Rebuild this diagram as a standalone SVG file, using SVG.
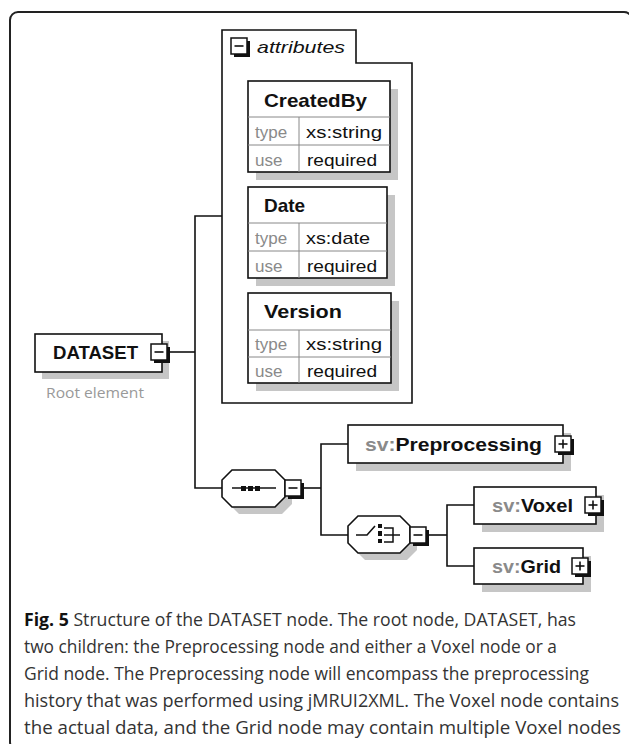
<svg xmlns="http://www.w3.org/2000/svg" width="629" height="744" viewBox="0 0 629 744">
<style>
.box{fill:#fff;stroke:#111;stroke-width:1.6}
.sh{fill:#c6c6c6}
.ln{fill:none;stroke:#111;stroke-width:1.6}
.cell{fill:none;stroke:#888;stroke-width:1}
.bt{font-family:"Liberation Sans",Arial,sans-serif;font-weight:bold;font-size:19px;fill:#111}
.gt{font-family:"Liberation Sans",Arial,sans-serif;font-size:17px;fill:#8a8a8a}
.vt{font-family:"Liberation Sans",Arial,sans-serif;font-size:17px;fill:#111}
.ns{fill:#8a8a8a}
.cap{font-family:"Open Sans","Liberation Sans",sans-serif;font-size:18px;fill:#333}
.btn{fill:#fff;stroke:#111;stroke-width:1.5}
.bsh{fill:#111}
</style>
<defs>
<g id="minus">
<rect class="bsh" x="3" y="3" width="16" height="16"/>
<rect class="btn" x="0" y="0" width="16" height="16"/>
<line x1="3.5" y1="8" x2="12.5" y2="8" stroke="#111" stroke-width="1.6"/>
</g>
<g id="plus">
<rect class="bsh" x="3" y="3" width="16" height="16"/>
<rect class="btn" x="0" y="0" width="16" height="16"/>
<line x1="3.5" y1="8" x2="12.5" y2="8" stroke="#111" stroke-width="1.6"/>
<line x1="8" y1="3.5" x2="8" y2="12.5" stroke="#111" stroke-width="1.6"/>
</g>
</defs>
<rect x="0" y="0" width="629" height="744" fill="#fff"/>
<rect id="frame" x="10" y="12" width="622" height="738" rx="8" fill="none" stroke="#222" stroke-width="2"/>

<g id="connectors">
<polyline class="ln" points="170,352 195,352"/>
<polyline class="ln" points="222,216 195,216 195,488 222,488"/>
<polyline class="ln" points="304,488 321,488"/>
<polyline class="ln" points="348,444 321,444 321,535 348,535"/>
<polyline class="ln" points="429,535 447,535"/>
<polyline class="ln" points="474,505 447,505 447,566 474,566"/>
</g>

<g id="dataset">
<rect class="sh" x="42" y="341" width="127" height="38"/>
<rect class="box" x="35" y="334" width="127" height="38"/>
<text class="bt" x="53" y="359" textLength="85" lengthAdjust="spacingAndGlyphs">DATASET</text>
<use href="#minus" x="151" y="344"/>
<text x="46" y="398" style="font-family:'Open Sans','Liberation Sans',sans-serif;font-size:14px;fill:#999" textLength="98" lengthAdjust="spacingAndGlyphs">Root element</text>
</g>

<g id="attributes">
<path class="box" d="M222,30 H356 V63 H412 V403 H222 Z"/>
<use href="#minus" x="231" y="38"/>
<text x="257" y="53" style="font-family:'Liberation Sans',Arial,sans-serif;font-style:italic;font-size:17px;fill:#111" textLength="88" lengthAdjust="spacingAndGlyphs">attributes</text>
</g>

<g id="createdby">
<rect class="sh" x="256" y="89" width="142" height="91"/>
<rect class="box" x="248" y="81" width="142" height="91"/>
<path class="cell" d="M248,117 H390 M248,145 H390 M299,117 V172"/>
<text class="bt" x="264" y="107" textLength="103" lengthAdjust="spacingAndGlyphs">CreatedBy</text>
<text class="gt" x="255" y="138">type</text>
<text class="vt" x="306" y="138" textLength="76" lengthAdjust="spacingAndGlyphs">xs:string</text>
<text class="gt" x="255" y="166">use</text>
<text class="vt" x="307" y="166" textLength="70" lengthAdjust="spacingAndGlyphs">required</text>
</g>

<g id="date">
<rect class="sh" x="256" y="195" width="139" height="91"/>
<rect class="box" x="248" y="187" width="139" height="91"/>
<path class="cell" d="M248,223 H387 M248,251 H387 M299,223 V278"/>
<text class="bt" x="264" y="212">Date</text>
<text class="gt" x="255" y="244">type</text>
<text class="vt" x="306" y="244" textLength="64" lengthAdjust="spacingAndGlyphs">xs:date</text>
<text class="gt" x="255" y="272">use</text>
<text class="vt" x="307" y="272" textLength="70" lengthAdjust="spacingAndGlyphs">required</text>
</g>

<g id="version">
<rect class="sh" x="256" y="301" width="143" height="90"/>
<rect class="box" x="248" y="293" width="143" height="90"/>
<path class="cell" d="M248,330 H391 M248,357 H391 M299,330 V383"/>
<text class="bt" x="264" y="318" textLength="78" lengthAdjust="spacingAndGlyphs">Version</text>
<text class="gt" x="255" y="350">type</text>
<text class="vt" x="306" y="350" textLength="76" lengthAdjust="spacingAndGlyphs">xs:string</text>
<text class="gt" x="255" y="377">use</text>
<text class="vt" x="307" y="377" textLength="70" lengthAdjust="spacingAndGlyphs">required</text>
</g>

<g id="sequence">
<path class="sh" d="M239,477 H282 L292,487 V504 L282,514 H239 L229,504 V487 Z"/>
<path class="box" d="M232,470 H275 L285,480 V497 L275,507 H232 L222,497 V480 Z"/>
<line x1="232" y1="488" x2="276" y2="488" stroke="#111" stroke-width="1.6"/>
<rect x="241" y="486" width="5" height="5" fill="#111"/>
<rect x="248" y="486" width="5" height="5" fill="#111"/>
<rect x="255" y="486" width="5" height="5" fill="#111"/>
<use href="#minus" x="285" y="480"/>
</g>

<g id="preprocessing">
<rect class="sh" x="356" y="433" width="215" height="38"/>
<rect class="box" x="348" y="425" width="215" height="38"/>
<text class="bt" x="365" y="451" textLength="177" lengthAdjust="spacingAndGlyphs"><tspan class="ns">sv:</tspan>Preprocessing</text>
<use href="#plus" x="555" y="436"/>
</g>

<g id="choice">
<path class="sh" d="M365,523 H407 L417,533 V550 L407,560 H365 L355,550 V533 Z"/>
<path class="box" d="M358,516 H400 L410,526 V543 L400,553 H358 L348,543 V526 Z"/>
<polyline points="356,535 367,535 375,526" fill="none" stroke="#111" stroke-width="1.6"/>
<rect x="378" y="524" width="4" height="4" fill="#111"/>
<rect x="378" y="531" width="4" height="5" fill="#111"/>
<rect x="378" y="539" width="4" height="4" fill="#111"/>
<polyline points="384,528 393,528 393,542 384,542" fill="none" stroke="#111" stroke-width="1.5"/>
<line x1="384" y1="535" x2="400" y2="535" stroke="#111" stroke-width="1.5"/>
<use href="#minus" x="410" y="527"/>
</g>

<g id="voxel">
<rect class="sh" x="482" y="495" width="122" height="37"/>
<rect class="box" x="474" y="487" width="122" height="37"/>
<text class="bt" x="492" y="512" textLength="81" lengthAdjust="spacingAndGlyphs"><tspan class="ns">sv:</tspan>Voxel</text>
<use href="#plus" x="585" y="497"/>
</g>

<g id="grid">
<rect class="sh" x="482" y="556" width="109" height="36"/>
<rect class="box" x="474" y="548" width="109" height="36"/>
<text class="bt" x="492" y="573" textLength="69" lengthAdjust="spacingAndGlyphs"><tspan class="ns">sv:</tspan>Grid</text>
<use href="#plus" x="572" y="558"/>
</g>

<g id="caption">
<text class="cap" x="24" y="626" textLength="552" lengthAdjust="spacingAndGlyphs"><tspan font-weight="bold" fill="#111">Fig. 5</tspan> Structure of the DATASET node. The root node, DATASET, has</text>
<text class="cap" x="24" y="653" textLength="533" lengthAdjust="spacingAndGlyphs">two children: the Preprocessing node and either a Voxel node or a</text>
<text class="cap" x="24" y="680" textLength="565" lengthAdjust="spacingAndGlyphs">Grid node. The Preprocessing node will encompass the preprocessing</text>
<text class="cap" x="24" y="707" textLength="595" lengthAdjust="spacingAndGlyphs">history that was performed using jMRUI2XML. The Voxel node contains</text>
<text class="cap" x="24" y="734" textLength="597" lengthAdjust="spacingAndGlyphs">the actual data, and the Grid node may contain multiple Voxel nodes</text>
</g>
</svg>
